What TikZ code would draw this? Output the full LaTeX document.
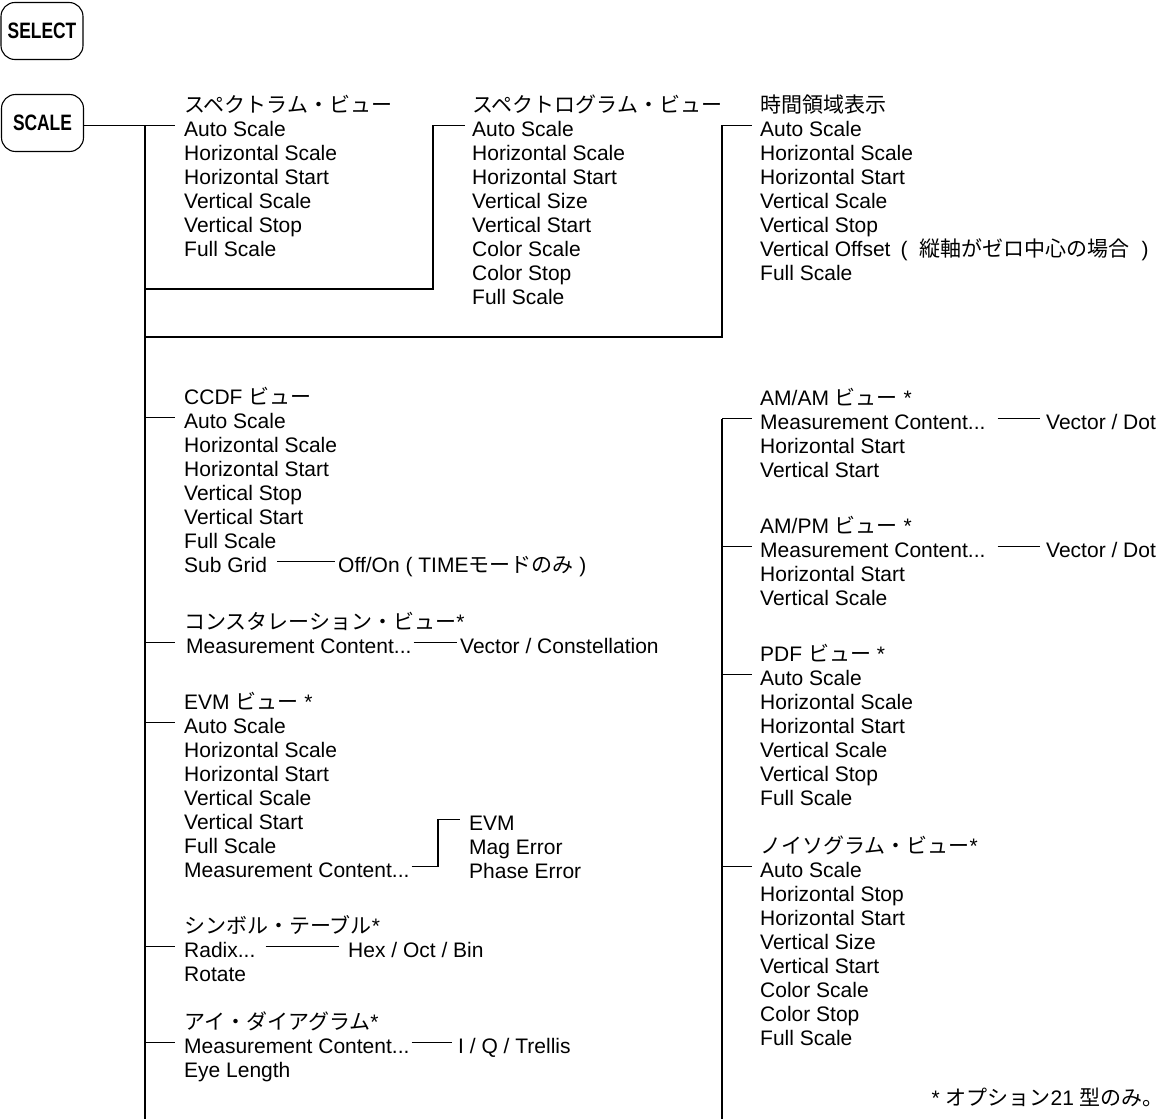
\documentclass[tikz,border=0pt]{standalone}
\usepackage{fontspec}
\usepackage{graphicx}
\setmainfont{Liberation Sans}
\newfontfamily\jpfont{Noto Sans CJK JP}
\newcommand{\jp}[1]{{\jpfont #1}}
\newcommand{\mcont}{Measurement Content...}
\usetikzlibrary{positioning}

\tikzset{
  item/.style={anchor=base west, inner sep=0pt, text height=21pt, text depth=0pt, font=\fontsize{21}{24}\selectfont},
  wire/.style={line width=1.1pt},
  keybox/.style={draw, line width=1.1pt, rounded corners=14pt, minimum width=82pt, minimum height=57pt, inner sep=0pt, font=\fontsize{22.3}{24}\selectfont\bfseries}
}

\begin{document}
\begin{tikzpicture}[x=1pt, y=-1pt]
    \useasboundingbox (0,0) rectangle (1165,1119);
    \coordinate (foot) at (0,1119);
    \coordinate (trunkL) at (145,0);
    \coordinate (trunkR) at (722,0);

    % front panel keys
    \node[keybox] (select) at (42,31) {\scalebox{0.78}[1]{SELECT}};
    \node[keybox] (scale) at (42.5,123) {\scalebox{0.78}[1]{SCALE}};

    % upper row
    \node[item] (spT) at (184,112) {\jp{スペクトラム・ビュー}};
    \foreach \t [count=\i] in {Auto Scale, Horizontal Scale, Horizontal Start, Vertical Scale, Vertical Stop, Full Scale}
        \node[item] (sp\i) at (184,112+24*\i) {\t};
    \node[item] (sgT) at (472,112) {\jp{スペクトログラム・ビュー}};
    \foreach \t [count=\i] in {Auto Scale, Horizontal Scale, Horizontal Start, Vertical Size, Vertical Start, Color Scale, Color Stop, Full Scale}
        \node[item] (sg\i) at (472,112+24*\i) {\t};
    \node[item] (tdT) at (760,112) {\jp{時間領域表示}};
    \foreach \t [count=\i] in {Auto Scale, Horizontal Scale, Horizontal Start, Vertical Scale, Vertical Stop, Vertical Offset\hspace{10pt}(\hspace{12pt}\jp{縦軸がゼロ中心の場合}\hspace{12pt}), Full Scale}
        \node[item] (td\i) at (760,112+24*\i) {\t};

    \coordinate (sgturn) at (433,289);
    \coordinate (tdturn) at (722,337);
    \draw[wire] (scale.east |- sp1.west) -- ([xshift=-9pt]sp1.west);
    \draw[wire] (trunkL |- sp1.west) -- (trunkL |- foot);
    \draw[wire] (trunkL |- sgturn) -- (sgturn) |- ([xshift=-7pt]sg1.west);
    \draw[wire] (trunkL |- tdturn) -- (tdturn) |- ([xshift=-8pt]td1.west);

    % left column
    \node[item] (ccT) at (184,404) {CCDF \jp{ビュー}};
    \foreach \t [count=\i] in {Auto Scale, Horizontal Scale, Horizontal Start, Vertical Stop, Vertical Start, Full Scale, Sub Grid}
        \node[item] (cc\i) at (184,404+24*\i) {\t};
    \node[item] (offon) at (338,572) {Off/On ( TIME\jp{モードのみ} )};

    \node[item] (coT) at (184,629) {\jp{コンスタレーション・ビュー}*};
    \node[item] (co1) at (186,653) {\mcont};
    \node[item] (covec) at (460,653) {Vector / Constellation};

    \node[item] (evT) at (184,709) {EVM \jp{ビュー} *};
    \foreach \t [count=\i] in {Auto Scale, Horizontal Scale, Horizontal Start, Vertical Scale, Vertical Start, Full Scale, \mcont}
        \node[item] (ev\i) at (184,709+24*\i) {\t};
    \foreach \t [count=\i] in {EVM, Mag Error, Phase Error}
        \node[item] (evs\i) at (469,806+24*\i) {\t};

    \node[item] (syT) at (184,933) {\jp{シンボル・テーブル}*};
    \node[item] (sy1) at (184,957) {Radix...};
    \node[item] (sy2) at (184,981) {Rotate};
    \node[item] (hex) at (348,957) {Hex / Oct / Bin};

    \node[item] (eyT) at (184,1029) {\jp{アイ・ダイアグラム}*};
    \node[item] (ey1) at (184,1053) {\mcont};
    \node[item] (ey2) at (184,1077) {Eye Length};
    \node[item] (iq) at (458,1053) {I / Q / Trellis};

    \foreach \n in {cc1, co1, ev1, sy1, ey1}
        \draw[wire] (trunkL |- \n.west) -- ([xshift=30pt]trunkL |- \n.west);
    \draw[wire] ([xshift=10pt]cc7.east) -- ([xshift=-3pt]offon.west);
    \draw[wire] ([xshift=2pt]co1.east) -- ([xshift=-3pt]covec.west);
    \draw[wire] ([xshift=2pt]ev7.east) -| ([xshift=-31pt]evs1.west) -- ([xshift=-9pt]evs1.west);
    \draw[wire] ([xshift=10pt]sy1.east) -- ([xshift=-9pt]hex.west);
    \draw[wire] ([xshift=2pt]ey1.east) -- ([xshift=-6pt]iq.west);

    % right column
    \node[item] (aaT) at (760,405) {AM/AM \jp{ビュー} *};
    \foreach \t [count=\i] in {\mcont, Horizontal Start, Vertical Start}
        \node[item] (aa\i) at (760,405+24*\i) {\t};
    \node[item] (aavec) at (1046,429) {Vector / Dot};

    \node[item] (apT) at (760,533) {AM/PM \jp{ビュー} *};
    \foreach \t [count=\i] in {\mcont, Horizontal Start, Vertical Scale}
        \node[item] (ap\i) at (760,533+24*\i) {\t};
    \node[item] (apvec) at (1046,557) {Vector / Dot};

    \node[item] (pdT) at (760,661) {PDF \jp{ビュー} *};
    \foreach \t [count=\i] in {Auto Scale, Horizontal Scale, Horizontal Start, Vertical Scale, Vertical Stop, Full Scale}
        \node[item] (pd\i) at (760,661+24*\i) {\t};

    \node[item] (ngT) at (760,853) {\jp{ノイソグラム・ビュー}*};
    \foreach \t [count=\i] in {Auto Scale, Horizontal Stop, Horizontal Start, Vertical Size, Vertical Start, Color Scale, Color Stop, Full Scale}
        \node[item] (ng\i) at (760,853+24*\i) {\t};

    \draw[wire] (trunkR |- aa1.west) -- (trunkR |- foot);
    \foreach \n in {aa1, ap1, pd1, ng1}
        \draw[wire] (trunkR |- \n.west) -- ([xshift=-8pt]\n.west);
    \draw[wire] ([xshift=12pt]aa1.east) -- ([xshift=-6pt]aavec.west);
    \draw[wire] ([xshift=12pt]ap1.east) -- ([xshift=-6pt]apvec.west);

    % footnote
    \node[item, anchor=base east] (note) at (1164,1105) {* \jp{オプション}21 \jp{型のみ。}};
\end{tikzpicture}
\end{document}
